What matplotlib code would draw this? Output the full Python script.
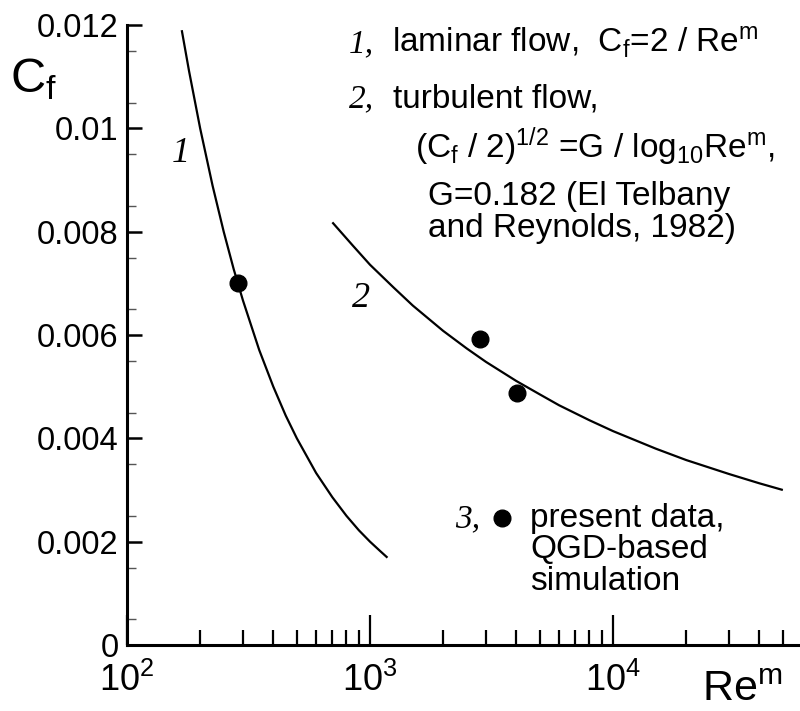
import numpy as np
import matplotlib
matplotlib.use("Agg")
import matplotlib.pyplot as plt
from matplotlib.ticker import FixedLocator, FixedFormatter, NullFormatter

# ---------------- data ----------------
lam_re = [168, 180, 200, 225, 250, 275, 300, 350, 400, 450, 500, 600, 700, 800, 900, 1000, 1100, 1180]
lam_cf = [0.01190, 0.01111, 0.01000, 0.00889, 0.00800, 0.00727, 0.00667, 0.00571, 0.00500,
          0.00444, 0.00400, 0.00333, 0.00286, 0.00250, 0.00222, 0.00200, 0.00182, 0.00169]

turb_re = [700, 850, 1000, 1250, 1500, 2000, 2500, 3000, 4000, 5000, 6000, 8000, 10000,
           15000, 20000, 30000, 40000, 50000]
turb_cf = [0.00818, 0.00773, 0.00736, 0.00692, 0.00657, 0.00608, 0.00574, 0.00548, 0.00511,
           0.00485, 0.00464, 0.00435, 0.00414, 0.00380, 0.00358, 0.00331, 0.00313, 0.00300]

sim_re = [286, 2830, 4010]
sim_cf = [0.00700, 0.00592, 0.00488]

legend_dot_re = [3480]
legend_dot_cf = [0.00246]

xticks = [1e2, 1e3, 1e4]
xtick_labels = ['$10^{2}$', '$10^{3}$', '$10^{4}$']
yticks = [0, 0.002, 0.004, 0.006, 0.008, 0.01, 0.012]
ytick_labels = ['0', '0.002', '0.004', '0.006', '0.008', '0.01', '0.012']

# ---------------- style ----------------
plt.rcParams['font.family'] = ['Liberation Sans', 'DejaVu Sans']
plt.rcParams['mathtext.fontset'] = 'custom'
plt.rcParams['mathtext.rm'] = 'Liberation Sans'
plt.rcParams['mathtext.it'] = 'Liberation Sans:italic'
plt.rcParams['mathtext.bf'] = 'Liberation Sans:bold'

W, H = 800, 711
fig = plt.figure(figsize=(W / 100, H / 100), dpi=100)

L, R, T, B = 127, 800, 25, 645
ax = fig.add_axes([L / W, (H - B) / H, (R - L) / W, (B - T) / H])

dec = 243.0
xmax = 10 ** (2 + (R - L) / dec)
ax.set_xscale('log')
ax.set_xlim(100, xmax)
ax.set_ylim(0, 0.012)

ax.plot(lam_re, lam_cf, color='black', lw=1.6, solid_capstyle='butt')
ax.plot(turb_re, turb_cf, color='black', lw=1.6, solid_capstyle='butt')
ax.plot(sim_re, sim_cf, 'o', color='black', ms=12, zorder=5)
ax.plot(legend_dot_re, legend_dot_cf, 'o', color='black', ms=12, zorder=5, clip_on=False)

for s in ['top', 'right']:
    ax.spines[s].set_visible(False)
for s in ['left', 'bottom']:
    ax.spines[s].set_linewidth(2.2)

ax.xaxis.set_major_locator(FixedLocator(xticks))
ax.xaxis.set_major_formatter(FixedFormatter(xtick_labels))
minor_x = [m * 10 ** e for e in (2, 3, 4) for m in range(2, 10) if m * 10 ** e < xmax]
ax.xaxis.set_minor_locator(FixedLocator(minor_x))
ax.xaxis.set_minor_formatter(NullFormatter())

ax.yaxis.set_major_locator(FixedLocator(yticks))
ax.yaxis.set_major_formatter(FixedFormatter(ytick_labels))
ax.yaxis.set_minor_locator(FixedLocator(np.arange(0.0005, 0.012, 0.001).tolist()))

ax.tick_params(axis='x', which='major', direction='in', length=21.5, width=1.6,
               pad=13, labelsize=26)
ax.tick_params(axis='x', which='minor', direction='in', length=10.8, width=1.6)
ax.tick_params(axis='y', which='major', direction='in', length=11, width=1.8,
               pad=6, labelsize=23.5)
ax.tick_params(axis='y', which='minor', direction='in', length=6.5, width=1.0,
               color='#555555')


def ft(x, y, s, **kw):
    fig.text(x / W, 1 - y / H, s, va='baseline', ha='left', **kw)


# axis labels
ft(10, 92, 'C$_{\\mathrm{f}}$', fontsize=35)
ft(702, 701, 'Re$^{\\mathrm{m}}$', fontsize=31)

# curve labels
serif_it = dict(family=['Liberation Serif', 'DejaVu Serif'], style='italic')
ft(172, 162, '1', fontsize=26, **serif_it)
ft(352, 307, '2', fontsize=26, **serif_it)

# legend text
fs = 24
ft(349, 52, '1,', fontsize=24, **serif_it)
ft(392, 52, 'laminar flow,  C$_{\\mathrm{f}}$=2 / Re$^{\\mathrm{m}}$', fontsize=fs)
ft(349, 107, '2,', fontsize=24, **serif_it)
ft(393, 107, 'turbulent flow,', fontsize=fs)
ft(415, 158, '(C$_{\\mathrm{f}}$ / 2)$^{\\mathrm{1/2}}$ =G / log$_{\\mathrm{10}}$Re$^{\\mathrm{m}}$,', fontsize=fs)
ft(428, 205, 'G=0.182 (El Telbany', fontsize=fs)
ft(428, 237, 'and Reynolds, 1982)', fontsize=fs)

ft(455, 527, '3,', fontsize=24, **serif_it)
ft(530, 527, 'present data,', fontsize=fs)
ft(530, 558, 'QGD-based', fontsize=fs)
ft(530, 590, 'simulation', fontsize=fs)

fig.savefig('out.png', dpi=100)
